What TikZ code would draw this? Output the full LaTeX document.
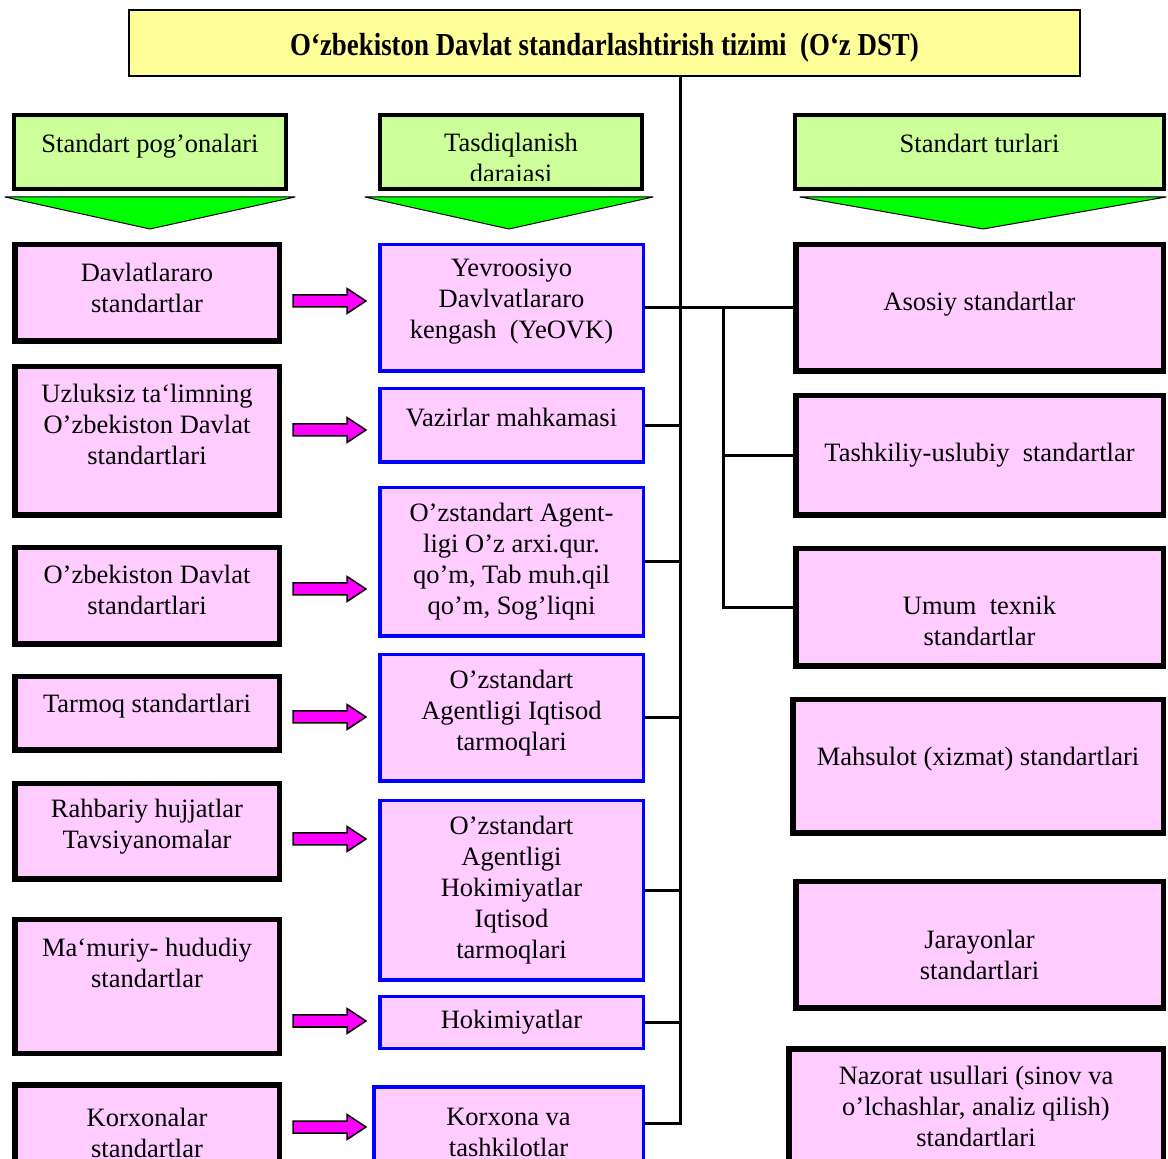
\documentclass[tikz,border=0pt]{standalone}
\usepackage{fontspec}
\setmainfont{Liberation Serif}
\newfontfamily\titlefont[FakeStretch=0.84]{Liberation Serif}
\definecolor{cpink}{HTML}{FFCCFF}
\definecolor{cblue}{HTML}{0000FF}
\definecolor{chead}{HTML}{CCFF99}
\definecolor{ctri}{HTML}{00FF00}
\definecolor{ctitle}{HTML}{FFFF99}
\definecolor{cmag}{HTML}{FF00FF}
\newcommand{\lift}[1]{\rule[-#1]{0pt}{#1}}
\newcommand{\drop}[1]{\rule{0pt}{#1}}
\tikzset{
  box/.style={draw, fill=cpink, align=center, inner sep=2pt},
  lvlbox/.style={box, line width=2.75pt, minimum width=132.25pt},
  orgbox/.style={box, draw=cblue, line width=1.75pt, minimum width=131.75pt},
  typbox/.style={box, line width=2.75pt, minimum width=183.75pt},
  hdrbox/.style={draw, fill=chead, line width=2pt, align=center, inner sep=0pt, minimum height=37pt},
  topbox/.style={draw, fill=ctitle, line width=1pt, minimum width=475.5pt, minimum height=33pt, font=\titlefont\bfseries\fontsize{16}{18}\selectfont},
  link/.style={line width=1.5pt},
  tri/.style={draw, fill=ctri, line width=0.5pt, line join=round},
  fatarr/.pic={\draw[fill=cmag, line width=0.75pt] (-36.5,-6) -- (17.5,-6) -- (17.5,-12.5) -- (36.5,0) -- (17.5,12.5) -- (17.5,6) -- (-36.5,6) -- cycle;},
}
\begin{document}
\begin{tikzpicture}[x=0.5pt, y=-0.5pt, font=\fontsize{13.25}{15.5}\selectfont]
  \useasboundingbox (0,0) rectangle (1168,1159);
  \clip (0,0) rectangle (1168,1159);
  \coordinate (bus) at (680,0);
  \coordinate (bus2) at (723,0);

  \node[topbox] (title) at (604.5,43) {\drop{15.5pt}O‘zbekiston Davlat standarlashtirish tizimi\ \ (O‘z DST)};

  \node[hdrbox, minimum width=136pt] (H1) at (150,152) {Standart pog’onalari\lift{9pt}};
  \node[hdrbox, minimum width=131pt] (H2) at (511,152) {\drop{18pt}Tasdiqlanish\\darajasi};
  \fill[chead] (382,181) rectangle (640,187);
  \node[hdrbox, minimum width=184.5pt] (H3) at (979.5,152) {Standart turlari\lift{9pt}};
  \draw[tri] (5,197) -- (295,197) -- (150,229) -- cycle;
  \draw[tri] (365,197) -- (653,197) -- (509,229) -- cycle;
  \draw[tri] (800,197) -- (1166,197) -- (983,229) -- cycle;

  \node[lvlbox, minimum height=48.25pt] (L1) at (147,293) {Davlatlararo\\standartlar\lift{5pt}};
  \node[lvlbox, minimum height=74.25pt] (L2) at (147,441) {Uzluksiz ta‘limning\\O’zbekiston Davlat\\standartlari\lift{17pt}};
  \node[lvlbox, minimum height=48.25pt] (L3) at (147,596) {O’zbekiston Davlat\\standartlari\lift{6pt}};
  \node[lvlbox, minimum height=36.75pt] (L4) at (147,713.5) {Tarmoq standartlari\lift{10pt}};
  \node[lvlbox, minimum height=47.75pt] (L5) at (147,831.5) {Rahbariy hujjatlar\\Tavsiyanomalar\lift{8pt}};
  \node[lvlbox, minimum height=66.75pt] (L6) at (147,986.5) {Ma‘muriy- hududiy\\standartlar\lift{24pt}};
  \node[lvlbox, minimum height=44.25pt] (L7) at (147,1129) {\drop{13pt}Korxonalar\\standartlar};

  \node[orgbox, minimum height=63.25pt] (M1) at (511.5,308) {Yevroosiyo\\Davlvatlararo\\kengash\ \ (YeOVK)\lift{9pt}};
  \node[orgbox, minimum height=36.75pt] (M2) at (511.5,425.5) {Vazirlar mahkamasi\lift{8.5pt}};
  \node[orgbox, minimum height=74.25pt] (M3) at (511.5,562) {O’zstandart Agent-\\ligi O’z arxi.qur.\\qo’m, Tab muh.qil\\qo’m, Sog’liqni};
  \node[orgbox, minimum height=63.25pt] (M4) at (511.5,718) {O’zstandart\\Agentligi Iqtisod\\tarmoqlari\lift{8pt}};
  \node[orgbox, minimum height=89.75pt] (M5) at (511.5,890.5) {O’zstandart\\Agentligi\\Hokimiyatlar\\Iqtisod\\tarmoqlari};
  \node[orgbox, minimum height=25.75pt] (M6) at (511.5,1022.5) {Hokimiyatlar};
  \node[orgbox, minimum width=134.75pt, minimum height=41.75pt] (M7) at (508.5,1128.5) {\drop{13pt}Korxona va\\tashkilotlar};

  \node[typbox, minimum height=63.25pt] (R1) at (979.5,308) {Asosiy standartlar\lift{7pt}};
  \node[typbox, minimum height=59.75pt] (R2) at (979.5,455.5) {Tashkiliy-uslubiy\ \ standartlar};
  \node[typbox, minimum height=58.75pt] (R3) at (979.5,607.5) {\drop{23pt}Umum\ \ texnik\\standartlar};
  \node[typbox, minimum width=185.25pt, minimum height=66.75pt] (R4) at (978,766.5) {Mahsulot (xizmat) standartlari\lift{10pt}};
  \node[typbox, minimum height=63.25pt] (R5) at (979.5,945) {\drop{19pt}Jarayonlar\\standartlari};
  \node[typbox, minimum width=187.25pt, minimum height=64.25pt] (R6) at (976,1113) {Nazorat usullari (sinov va\\o’lchashlar, analiz qilish)\\standartlari\lift{7pt}};

  \foreach \y [count=\i] in {301,430,589,717,839,1021,1127}
    \pic (arr\i) at (329.5,\y) {fatarr};

  \draw[link] (title.south -| bus) |- ([yshift=2.75pt]M7.east);
  \draw[link] (M1.east) -- (R1.west);
  \draw[link] (M2.east) -- (M2.east -| bus);
  \draw[link] (M3.east) -- (M3.east -| bus);
  \draw[link] (M4.east) -- (M4.east -| bus);
  \draw[link] (M5.east) -- (M5.east -| bus);
  \draw[link] (M6.east) -- (M6.east -| bus);
  \draw[link] (M1.east -| bus2) |- (R3.west);
  \draw[link] (R2.west -| bus2) -- (R2.west);
\end{tikzpicture}
\end{document}
